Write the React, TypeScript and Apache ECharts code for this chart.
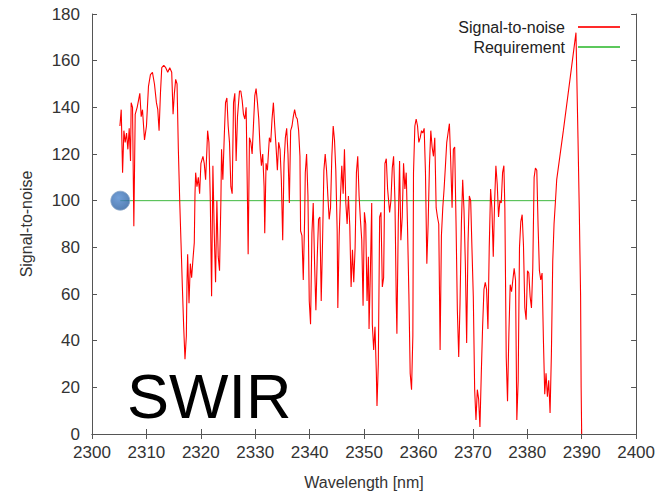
import { useEffect, useRef } from "react";
import * as echarts from "echarts";

// Signal-to-noise trace
const wavelengths = [
  2305.13, 2305.37, 2305.62, 2305.86, 2306.1, 2306.35, 2306.59, 2306.84, 2307.08, 2307.2,
  2307.45, 2307.69, 2307.94, 2308.3, 2308.55, 2308.79, 2309.04, 2309.28, 2309.65, 2310.01,
  2310.38, 2310.74, 2311.11, 2311.48, 2311.84, 2312.09, 2312.33, 2312.58, 2312.82, 2313.19,
  2313.55, 2313.92, 2314.29, 2314.65, 2314.9, 2315.14, 2315.38, 2315.63, 2315.87, 2316.12,
  2316.36, 2316.61, 2316.85, 2317.09, 2317.34, 2317.46, 2317.58, 2317.83, 2318.07, 2318.31,
  2318.56, 2318.8, 2318.93, 2319.05, 2319.29, 2319.54, 2319.78, 2320.02, 2320.39, 2320.63,
  2320.88, 2321.12, 2321.25, 2321.49, 2321.73, 2321.98, 2322.22, 2322.47, 2322.71, 2322.95,
  2323.2, 2323.44, 2323.69, 2323.81, 2324.05, 2324.3, 2324.54, 2324.79, 2325.03, 2325.27,
  2325.52, 2325.76, 2326.01, 2326.25, 2326.49, 2326.74,
  2327.11, 2327.35, 2327.6, 2327.84, 2328.09, 2328.33, 2328.58, 2328.7, 2328.94, 2329.19,
  2329.43, 2329.67, 2329.92, 2330.16, 2330.41, 2330.65, 2330.9, 2331.14, 2331.38, 2331.63,
  2331.75, 2331.99, 2332.24, 2332.6, 2332.85, 2333.09, 2333.34, 2333.58, 2333.83, 2334.07,
  2334.31, 2334.56, 2334.8, 2335.05, 2335.29, 2335.54, 2335.78, 2336.02, 2336.27, 2336.51,
  2336.76, 2337.0, 2337.24, 2337.49, 2337.73, 2337.98, 2338.22, 2338.34, 2338.59, 2338.83,
  2339.08, 2339.2, 2339.44, 2339.69, 2339.93, 2340.17, 2340.42, 2340.66, 2340.91, 2341.15,
  2341.4, 2341.64, 2341.88, 2342.13, 2342.37, 2342.62, 2342.86, 2343.11, 2343.35, 2343.59,
  2343.84, 2344.08, 2344.33, 2344.57, 2344.81, 2345.06, 2345.18, 2345.43, 2345.67, 2345.91,
  2346.16, 2346.4, 2346.65, 2346.89, 2347.13, 2347.38, 2347.62, 2347.87, 2348.11, 2348.36,
  2348.6, 2348.84, 2349.09, 2349.33, 2349.58, 2349.82, 2350.07, 2350.31, 2350.55, 2350.8,
  2350.92, 2351.17, 2351.41,
  2351.52, 2351.77, 2352.01, 2352.26, 2352.38, 2352.62, 2352.87, 2353.11, 2353.36, 2353.6,
  2353.84, 2354.09, 2354.33, 2354.7, 2354.94, 2355.19, 2355.43, 2355.68, 2355.92, 2356.04,
  2356.29, 2356.53, 2356.77, 2357.02, 2357.26, 2357.51, 2357.75, 2357.98, 2358.24, 2358.48,
  2358.73, 2358.97, 2359.09, 2359.34, 2359.58, 2359.83, 2360.07, 2360.32, 2360.56, 2360.8,
  2361.05, 2361.29, 2361.54, 2361.78, 2362.02, 2362.27, 2362.51, 2362.76, 2363.0, 2363.25,
  2363.49, 2363.73, 2363.98, 2364.22, 2364.47, 2364.71, 2364.96, 2365.2, 2365.44, 2365.69,
  2365.93, 2366.18, 2366.42, 2366.66, 2366.91, 2367.15, 2367.4, 2367.64, 2367.89, 2368.13,
  2368.37, 2368.62, 2368.86, 2369.11, 2369.35, 2369.6, 2369.84, 2370.08, 2370.33, 2370.57,
  2370.82, 2371.06, 2371.3, 2371.55, 2371.79, 2372.04, 2372.28, 2372.52, 2372.77, 2373.01,
  2373.26, 2373.5, 2373.75, 2373.99, 2374.23, 2374.48, 2374.72, 2374.97, 2375.21, 2375.46,
  2375.7,
  2375.88, 2376.13, 2376.37, 2376.62, 2376.86, 2377.11, 2377.35, 2377.59, 2377.84, 2378.08,
  2378.33, 2378.57, 2378.81, 2379.06, 2379.3, 2379.55, 2379.79, 2380.04, 2380.28, 2380.52,
  2380.77, 2381.01, 2381.26, 2381.5, 2381.75, 2381.99, 2382.23, 2382.48, 2382.72, 2382.97,
  2383.21, 2383.45, 2383.7, 2383.94, 2384.19, 2384.43, 2384.68, 2384.92, 2385.16, 2385.41,
  2386.63, 2387.85, 2388.95, 2389.32, 2389.56, 2389.8, 2389.9, 2390.0,
];

const snrValues = [
  132, 139, 112, 130, 125, 129, 122, 131, 117, 142,
  140, 89, 137, 140, 143, 146, 136, 139, 126, 132,
  149, 154, 155, 150, 142, 139, 130, 146, 157, 158,
  157, 155, 157, 155, 137, 146, 152, 150, 122, 100,
  82, 63, 46, 32, 42, 65, 77, 56, 73, 67,
  75, 82, 103, 112, 106, 110, 103, 116, 119, 116,
  109, 122, 130, 125, 102, 59, 115, 86, 65, 100,
  76, 70, 100, 122, 109, 127, 142, 144, 132, 125,
  106, 103, 142, 146, 117, 136,
  147, 147, 143, 137, 135, 140, 99, 77, 127, 125,
  120, 132, 145, 148, 142, 135, 122, 115, 120, 106,
  86, 116, 113, 127, 125, 135, 142, 132, 123, 113,
  125, 122, 109, 83, 116, 127, 131, 120, 99, 130,
  132, 136, 139, 136, 135, 130, 119, 87, 85, 66,
  92, 112, 120, 102, 57, 47, 86, 99, 73, 53,
  76, 92, 93, 57, 82, 113, 120, 113, 102, 92,
  97, 119, 132, 126, 113, 87, 54, 85, 102, 115,
  103, 122, 99, 90, 102, 89, 63, 79, 65, 80,
  112, 119, 102, 92, 83, 55, 95, 90, 57, 76,
  45, 70, 99,
  47, 36, 46, 26, 12, 30, 93, 95, 63, 67,
  116, 118, 105, 95, 100, 114, 119, 100, 57, 43,
  90, 117, 83, 93, 116, 105, 112, 90, 60, 26,
  19, 42, 112, 132, 135, 132, 125, 127, 130, 129,
  131, 112, 73, 90, 115, 130, 123, 119, 127, 97,
  93, 90, 36, 85, 97, 105, 115, 125, 129, 133,
  117, 97, 122, 123, 90, 53, 33, 56, 90, 109,
  96, 73, 39, 82, 102, 100, 79, 59, 19, 6,
  19, 15, 3, 26, 46, 62, 65, 62, 45, 80,
  105, 97, 76, 99, 115, 107, 93, 100, 99, 112,
  115,
  97, 33, 14, 43, 64, 61, 66, 71, 66, 6,
  23, 80, 91, 94, 81, 54, 49, 70, 69, 59,
  54, 71, 110, 114, 113, 89, 70, 66, 69, 40,
  17, 26, 16, 23, 9, 34, 74, 90, 99, 109,
  130, 152, 172, 127, 96, 59, 20, 0,
];

const requirementWavelengths = [2305.2, 2385.1];
const requirementValues = [100, 100];
const markerPoint = [2305.2, 100];

const xMin = 2300;
const xMax = 2400;
const xStep = 10;
const yMin = 0;
const yMax = 180;
const yStep = 20;

const FONT = "'Liberation Sans', Arial, sans-serif";

export default function App() {
  const ref = useRef<HTMLDivElement>(null);

  useEffect(() => {
    if (!ref.current) return;
    const chart = echarts.init(ref.current, undefined, { renderer: "svg" });

    const snrData = wavelengths.map((w, i) => [w, snrValues[i]]);
    const reqData = requirementWavelengths.map((w, i) => [w, requirementValues[i]]);

    const axisLine = { show: true, lineStyle: { color: "#555", width: 1 } };
    const tick = { show: true, inside: true, length: 5, lineStyle: { color: "#555" } };
    const label = {
      color: "#333",
      fontSize: 17,
      fontFamily: FONT,
      formatter: (v: number) => String(v),
    };

    chart.setOption({
      animation: false,
      backgroundColor: "#fff",
      textStyle: { fontFamily: FONT },
      grid: { left: 92, right: 20, top: 14, bottom: 62, containLabel: false },
      legend: [
        {
          data: ["Signal-to-noise"],
          orient: "vertical",
          right: 38,
          top: 19,
          padding: 0,
          align: "right",
          icon: "rect",
          itemWidth: 42,
          itemHeight: 2,
          selectedMode: false,
          textStyle: { color: "#222", fontSize: 16, fontFamily: FONT, padding: [0, 8, 0, 0] },
        },
        {
          data: ["Requirement"],
          orient: "vertical",
          right: 38,
          top: 39,
          padding: 0,
          align: "right",
          icon: "rect",
          itemWidth: 42,
          itemHeight: 2,
          selectedMode: false,
          textStyle: { color: "#222", fontSize: 16, fontFamily: FONT, padding: [0, 8, 0, 0] },
        },
      ],
      xAxis: [
        {
          type: "value",
          min: xMin,
          max: xMax,
          interval: xStep,
          position: "bottom",
          name: "Wavelength [nm]",
          nameLocation: "middle",
          nameGap: 40,
          nameTextStyle: { color: "#333", fontSize: 16, fontFamily: FONT },
          axisLine,
          axisTick: tick,
          axisLabel: { ...label, margin: 10 },
          splitLine: { show: false },
        },
        {
          type: "value",
          min: xMin,
          max: xMax,
          interval: xStep,
          position: "top",
          axisLine,
          axisTick: tick,
          axisLabel: { show: false },
          splitLine: { show: false },
        },
      ],
      yAxis: [
        {
          type: "value",
          min: yMin,
          max: yMax,
          interval: yStep,
          position: "left",
          name: "Signal-to-noise",
          nameLocation: "middle",
          nameGap: 58,
          nameTextStyle: { color: "#333", fontSize: 16, fontFamily: FONT },
          axisLine,
          axisTick: tick,
          axisLabel: { ...label, margin: 12 },
          splitLine: { show: false },
        },
        {
          type: "value",
          min: yMin,
          max: yMax,
          interval: yStep,
          position: "right",
          axisLine,
          axisTick: tick,
          axisLabel: { show: false },
          splitLine: { show: false },
        },
      ],
      series: [
        {
          name: "Signal-to-noise",
          type: "line",
          data: snrData,
          showSymbol: false,
          symbol: "none",
          color: "#ff2a2a",
          lineStyle: { color: "#ff0000", width: 1.1 },
          z: 3,
        },
        {
          name: "Requirement",
          type: "line",
          data: reqData,
          showSymbol: false,
          symbol: "none",
          color: "#5cc85c",
          lineStyle: { color: "#3fb83f", width: 1 },
          z: 2,
        },
        {
          name: "marker",
          type: "scatter",
          data: [markerPoint],
          symbolSize: 19,
          itemStyle: {
            color: new echarts.graphic.RadialGradient(0.4, 0.35, 0.7, [
              { offset: 0, color: "#4f88cf" },
              { offset: 1, color: "#2a5e9f" },
            ]),
            borderColor: "#8aa6c8",
            borderWidth: 1,
          },
          z: 5,
        },
      ],
      graphic: [
        {
          type: "text",
          x: 127,
          y: 396,
          style: {
            text: "SWIR",
            fontSize: 63,
            fontFamily: FONT,
            fill: "#000",
            verticalAlign: "middle",
            align: "left",
          },
        },
      ],
    });

    return () => chart.dispose();
  }, []);

  return (
    <div
      ref={ref}
      style={{ position: "absolute", left: 0, top: 0, width: 658, height: 496 }}
    />
  );
}
